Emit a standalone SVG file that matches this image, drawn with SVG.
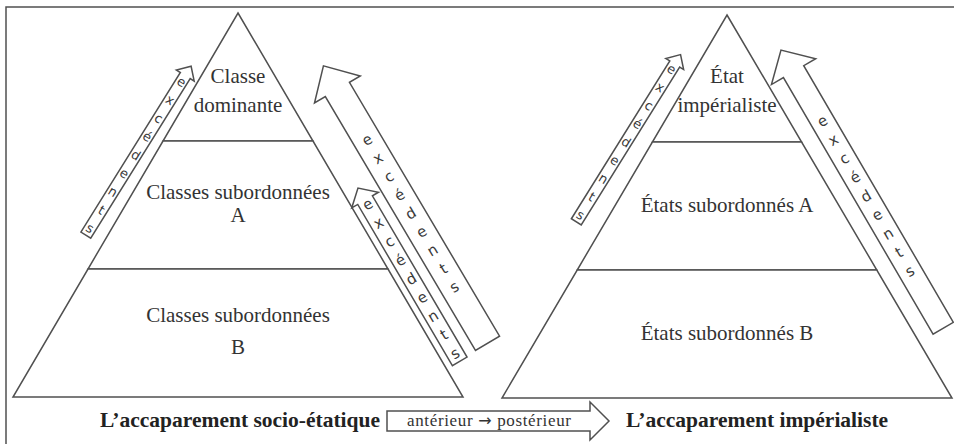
<svg xmlns="http://www.w3.org/2000/svg" width="954" height="444" viewBox="0 0 954 444">
<style>
.ln{fill:#fff;stroke:#505050;stroke-width:1.5;stroke-linejoin:miter}
.lbl{font-family:"Liberation Serif","DejaVu Serif",serif;font-size:21px;fill:#333;text-anchor:middle}
.ttl{font-family:"Liberation Serif","DejaVu Serif",serif;font-size:21.5px;font-weight:bold;fill:#222}
.ex{font-family:"DejaVu Sans","Liberation Sans",sans-serif;fill:#3a3a3a;text-anchor:middle}
.sm{font-size:13px}
.bg{font-size:15px}
.tm{font-family:"Liberation Serif","DejaVu Serif",serif;font-size:17px;fill:#333;text-anchor:middle}
.ar{font-family:"DejaVu Sans",sans-serif;font-size:16px}
</style>
<rect width="954" height="444" fill="#fff"/>
<path d="M6,444 V7 H954" fill="none" stroke="#505050" stroke-width="1.5"/>

<g id="pyramide-socio-etatique">
  <g id="classe-dominante">
    <polygon class="ln" points="238,13 313,141 163,141"/>
    <text class="lbl" x="238" y="83">Classe</text>
    <text class="lbl" x="238" y="112">dominante</text>
  </g>
  <g id="classes-subordonnees-a">
    <polygon class="ln" points="163,141 313,141 388,269 88,269"/>
    <text class="lbl" x="238" y="199">Classes subordonnées</text>
    <text class="lbl" x="238" y="222">A</text>
  </g>
  <g id="classes-subordonnees-b">
    <polygon class="ln" points="88,269 388,269 463,397 13,397"/>
    <text class="lbl" x="238" y="322">Classes subordonnées</text>
    <text class="lbl" x="238" y="354">B</text>
  </g>
  <g id="titre-socio-etatique">
    <text class="ttl" x="100" y="427">L’accaparement socio-étatique</text>
  </g>
</g>

<g id="pyramide-imperialiste">
  <g id="etat-imperialiste">
    <polygon class="ln" points="727,15 801.6,142 652.4,142"/>
    <text class="lbl" x="727" y="83">État</text>
    <text class="lbl" x="727" y="112">impérialiste</text>
  </g>
  <g id="etats-subordonnes-a">
    <polygon class="ln" points="652.4,142 801.6,142 876.8,270 577.2,270"/>
    <text class="lbl" x="727" y="212">États subordonnés A</text>
  </g>
  <g id="etats-subordonnes-b">
    <polygon class="ln" points="577.2,270 876.8,270 952,398 502,398"/>
    <text class="lbl" x="727" y="340">États subordonnés B</text>
  </g>
  <g id="titre-imperialiste">
    <text class="ttl" x="626" y="427">L’accaparement impérialiste</text>
  </g>
</g>

<g id="connectors">
  <g id="fleche-gauche-1" transform="translate(85.8,235.1) rotate(-58.05)">
    <polygon class="ln" points="0,-5.8 188,-5.8 188,-10.5 199,0 188,10.5 188,5.8 0,5.8"/>
    <text class="ex sm" transform="translate(180.8,0) rotate(90)" x="0 0 0 0 0 0 0 0 0" y="4.5 26.1 47.7 69.3 90.9 112.5 134.1 155.7 177.3">excédents</text>
  </g>
  <g id="fleche-droite-1-petite" transform="translate(459.7,361.4) rotate(-120.4)">
    <polygon class="ln" points="0,-8.5 187,-8.5 187,-15.5 201,0 187,15.5 187,8.5 0,8.5"/>
    <text class="ex bg" transform="translate(182,0) rotate(90)" x="0 0 0 0 0 0 0 0 0" y="5 26.6 48.2 69.8 91.4 113 134.6 156.2 177.8">excédents</text>
  </g>
  <g id="fleche-droite-1-grande" transform="translate(487.5,343.3) rotate(-120.6)">
    <polygon class="ln" points="0,-14 294.9,-14 294.9,-26.6 322.3,0 294.9,26.6 294.9,14 0,14"/>
    <text class="ex bg" transform="translate(236.5,0) rotate(90)" x="0 0 0 0 0 0 0 0 0" y="5 26.4 47.8 69.2 90.6 112 133.4 154.8 176.2">excédents</text>
  </g>
  <g id="fleche-gauche-2" transform="translate(576.3,221.8) rotate(-58.05)">
    <polygon class="ln" points="0,-5.8 186,-5.8 186,-10.5 197,0 186,10.5 186,5.8 0,5.8"/>
    <text class="ex sm" transform="translate(180,0) rotate(90)" x="0 0 0 0 0 0 0 0 0" y="4.5 26 47.5 69 90.5 112 133.5 155 176.5">excédents</text>
  </g>
  <g id="fleche-droite-2" transform="translate(943.2,328.2) rotate(-120.25)">
    <polygon class="ln" points="0,-11.75 297,-11.75 297,-25.6 322,0 297,25.6 297,11.75 0,11.75"/>
    <text class="ex bg" transform="translate(239.6,0) rotate(90)" x="0 0 0 0 0 0 0 0 0" y="5 26.7 48.4 70.1 91.8 113.5 135.2 156.9 178.6">excédents</text>
  </g>
  <g id="fleche-temps">
    <polygon class="ln" points="387,411 590,411 590,402 609,421 590,440 590,431 387,431"/>
    <text class="tm" x="489" y="426" textLength="164" lengthAdjust="spacing">antérieur <tspan class="ar">→</tspan> postérieur</text>
  </g>
</g>
</svg>
